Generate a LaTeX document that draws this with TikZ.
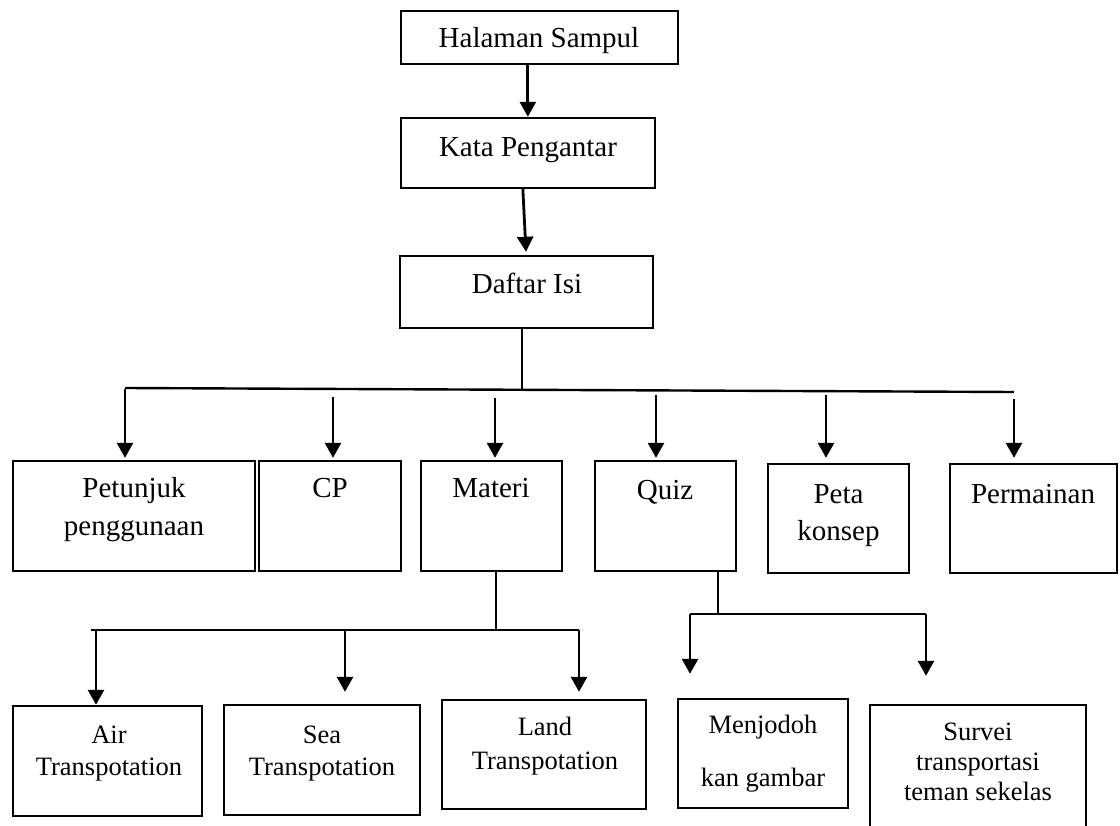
\documentclass[tikz,border=0pt]{standalone}
\usepackage{fontspec}
\setmainfont{Liberation Serif}
\usetikzlibrary{arrows.meta,fit}
\begin{document}
\begin{tikzpicture}[x=1pt,y=-1pt,
  box/.style={draw, line width=2.4pt, inner sep=0pt},
  lbl/.style={anchor=base, inner sep=0pt, font=\fontsize{29}{34}\selectfont},
  slbl/.style={anchor=base, inner sep=0pt, font=\fontsize{26.5}{31}\selectfont},
  conn/.style={line width=2.4pt},
  arr/.style={line width=2.8pt, -{Triangle[width=16pt,length=15pt]}}]
\useasboundingbox (0,0) rectangle (1120,826);
\clip (0,0) rectangle (1120,826);
% boxes
\node[box, fit={(400.7,11) (678,64)}] (hs) {};
\node[box, fit={(400.7,118) (655,188)}] (kp) {};
\node[box, fit={(400,256) (653,328)}] (di) {};
\node[box, fit={(13,461) (255,571)}] (pg) {};
\node[box, fit={(259,461) (401,571)}] (cp) {};
\node[box, fit={(421,461) (562,571)}] (mt) {};
\node[box, fit={(595,461) (736,571)}] (qz) {};
\node[box, fit={(768,464) (909,573)}] (pk) {};
\node[box, fit={(950,464) (1117,573)}] (pm) {};
\node[box, fit={(13,706) (202,816)}] (air) {};
\node[box, fit={(224,705) (420,815)}] (sea) {};
\node[box, fit={(442,700) (646,809)}] (land) {};
\node[box, fit={(678,699) (848,808)}] (mj) {};
\node[box, fit={(870,705) (1086,850)}] (sv) {};
% texts
\node[lbl] (hs-t) at (539,48) {Halaman Sampul};
\node[lbl] (kp-t) at (528,157) {Kata Pengantar};
\node[lbl] (di-t) at (527,294) {Daftar Isi};
\node[lbl] (pg-t1) at (134,497) {Petunjuk};
\node[lbl] (pg-t2) at (134,535) {penggunaan};
\node[lbl] (cp-t) at (330,497) {CP};
\node[lbl] (mt-t) at (491,497) {Materi};
\node[lbl] (qz-t) at (665,499) {Quiz};
\node[lbl] (pk-t1) at (838.5,503) {Peta};
\node[lbl] (pk-t2) at (838.5,540) {konsep};
\node[lbl] (pm-t) at (1033,503) {Permainan};
\node[slbl] (air-t1) at (109,743) {Air};
\node[slbl] (air-t2) at (109,775) {Transpotation};
\node[slbl] (sea-t1) at (322,743) {Sea};
\node[slbl] (sea-t2) at (322,775) {Transpotation};
\node[slbl] (land-t1) at (545,735) {Land};
\node[slbl] (land-t2) at (545,769) {Transpotation};
\node[slbl] (mj-t1) at (763,733) {Menjodoh};
\node[slbl] (mj-t2) at (763,786) {kan gambar};
\node[slbl] (sv-t1) at (978,740) {Survei};
\node[slbl] (sv-t2) at (978,770) {transportasi};
\node[slbl] (sv-t3) at (978,800) {teman sekelas};
% top chain
\draw[arr] (hs.south -| kp.north) -- (kp.north);
\draw[arr] ([xshift=-5pt]kp.south) -- ([xshift=-0.5pt,yshift=3pt]di.north);
% Daftar Isi branch
\coordinate (j0) at (522,390);
\draw[conn] (di.south -| j0) -- (j0);
\coordinate (hl) at (125,388);
\coordinate (hr) at (1014,392);
\draw[conn] (hl) -- (hr);
\coordinate (a1) at (125,389);
\coordinate (a2) at (333,397);
\coordinate (a3) at (495,398);
\coordinate (a4) at (656,395);
\coordinate (a5) at (826,395);
\coordinate (a6) at (1014,399);
\draw[arr] (a1) -- ([yshift=2pt]a1 |- pg.north);
\draw[arr] (a2) -- ([yshift=2pt]a2 |- cp.north);
\draw[arr] (a3) -- ([yshift=2pt]a3 |- mt.north);
\draw[arr] (a4) -- ([yshift=2pt]a4 |- qz.north);
\draw[arr] (a5) -- ([yshift=5pt]a5 |- pk.north);
\draw[arr] (a6) -- ([yshift=5pt]a6 |- pm.north);
% Materi branch
\coordinate (m0) at (496,630);
\draw[conn] (mt.south -| m0) -- (m0);
\coordinate (ml) at (91,630);
\coordinate (mr) at (579,630);
\draw[conn] (ml) -- (mr);
\coordinate (b1) at (96,630);
\coordinate (b2) at (345,630);
\draw[arr] (b1) -- (b1 |- air.north);
\draw[arr] (b2) -- ([yshift=12pt]b2 |- sea.north);
\draw[arr] (mr) -- ([yshift=7pt]mr |- land.north);
% Quiz branch
\coordinate (q0) at (718,614);
\draw[conn] (qz.south -| q0) -- (q0);
\coordinate (ql) at (690,614);
\coordinate (qr) at (926,614);
\draw[conn] (ql) -- (qr);
\draw[arr] (ql) -- ([yshift=24pt]ql |- mj.north);
\draw[arr] (qr) -- ([yshift=28pt]qr |- sv.north);
\end{tikzpicture}
\end{document}
